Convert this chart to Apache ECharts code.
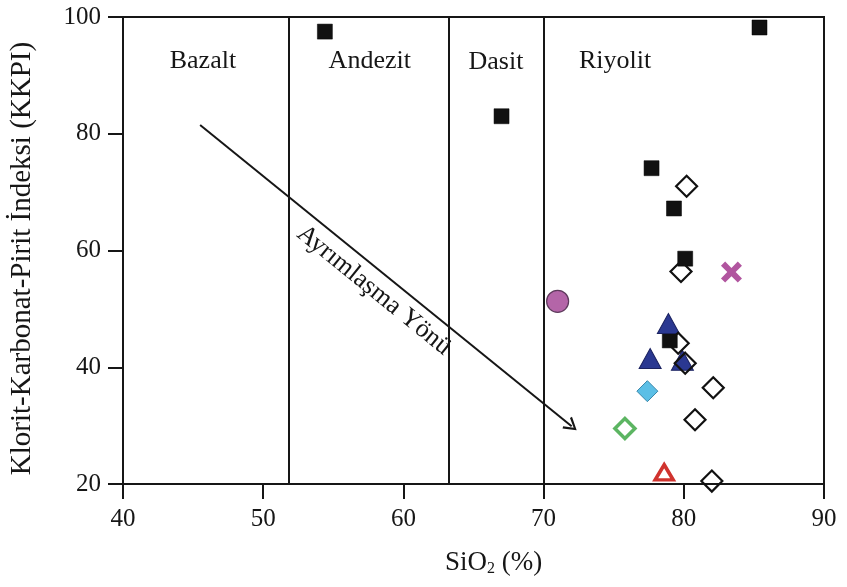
<!DOCTYPE html>
<html>
<head>
<meta charset="utf-8">
<script src="https://cdn.jsdelivr.net/npm/echarts@6/dist/echarts.min.js"></script>
<style>
  html, body { margin: 0; padding: 0; background: #fff; }
  #chart { width: 847px; height: 587px; }
</style>
</head>
<body>
<div id="chart"></div>
<script>
// SiO2 (%) vs chlorite-carbonate-pyrite index samples
const blackSquares = [[54.4, 97.5], [67.0, 83.0], [77.7, 74.1], [79.3, 67.2], [80.1, 58.6], [79.0, 44.6], [85.4, 98.2]];
const openDiamonds = [[80.2, 71.0], [79.8, 56.4], [79.6, 44.1], [80.1, 40.7], [82.1, 36.5], [80.8, 31.0], [82.0, 20.5]];
const blueTriangles = [[78.9, 47.5], [77.6, 41.5], [79.9, 41.2]];
const lightBlueDiamonds = [[77.4, 35.9]];
const greenDiamonds = [[75.8, 29.5]];
const redTriangles = [[78.6, 22.0]];
const pinkCircles = [[71.0, 51.3]];
const magentaCrosses = [[83.4, 56.3]];

// Rock-type field boundaries (SiO2 %) and field names
const boundaries = [51.8, 63.2, 70.0];
const fieldNames = ['Bazalt', 'Andezit', 'Dasit', 'Riyolit'];
const fieldX = [45.7, 57.6, 66.6, 75.1];
const fieldY = [92.5, 92.5, 92.2, 92.5];

// Differentiation direction arrow
const arrowStart = [45.5, 81.5];
const arrowEnd = [72.0, 29.9];
const arrowText = 'Ayrımlaşma Yönü';

const xTicks = [40, 90, 10];
const yTicks = [20, 100, 20];

const FONT = '"Liberation Serif", "DejaVu Serif", serif';
const INK = '#161616';

const chart = echarts.init(document.getElementById('chart'), null, { renderer: 'canvas' });

const crossPath = 'path://M0,2 L2,0 L5,3 L8,0 L10,2 L7,5 L10,8 L8,10 L5,7 L2,10 L0,8 L3,5 Z';
const chevronPath = 'path://M5,0 L10,10 L8.6,10.7 L5,3.2 L1.4,10.7 L0,10 Z';

chart.setOption({
  animation: false,
  backgroundColor: '#fff',
  grid: {
    left: 122, right: 23, top: 17, bottom: 103,
    show: true, borderColor: INK, borderWidth: 2, backgroundColor: 'transparent'
  },
  xAxis: {
    type: 'value', min: xTicks[0], max: xTicks[1], interval: xTicks[2],
    name: 'SiO{sub|2} (%)', nameLocation: 'middle', nameGap: 65,
    nameTextStyle: {
      fontFamily: FONT, fontSize: 27, color: INK, padding: [0, 0, 0, 40],
      rich: { sub: { fontFamily: FONT, fontSize: 16, color: INK, padding: [12, 0, 0, 0] } }
    },
    axisLine: { show: true, onZero: false, lineStyle: { color: INK, width: 2 } },
    axisTick: { show: true, inside: false, length: 15, lineStyle: { color: INK, width: 2 } },
    axisLabel: { fontFamily: FONT, fontSize: 25, color: INK, margin: 23 },
    splitLine: { show: false }
  },
  yAxis: {
    type: 'value', min: yTicks[0], max: yTicks[1], interval: yTicks[2],
    name: 'Klorit-Karbonat-Pirit İndeksi (KKPI)', nameLocation: 'middle', nameGap: 86,
    nameTextStyle: { fontFamily: FONT, fontSize: 29, color: INK, padding: [0, 16, 0, 0] },
    axisLine: { show: true, onZero: false, lineStyle: { color: INK, width: 2 } },
    axisTick: { show: true, inside: false, length: 15, lineStyle: { color: INK, width: 2 } },
    axisLabel: { fontFamily: FONT, fontSize: 25, color: INK, margin: 22 },
    splitLine: { show: false }
  },
  series: [
    {
      // field boundaries, direction arrow and field names
      type: 'scatter', name: 'alanlar', silent: true, z: 1,
      symbolSize: 0,
      itemStyle: { opacity: 1 },
      data: fieldNames.map((n, i) => ({ name: n, value: [fieldX[i], fieldY[i]] })),
      label: {
        show: true, position: 'inside', formatter: '{b}',
        fontFamily: FONT, fontSize: 26, color: INK, opacity: 1
      },
      markLine: {
        silent: true, animation: false,
        symbol: ['none', 'none'],
        lineStyle: { color: INK, width: 2, type: 'solid', opacity: 1 },
        label: { show: false },
        emphasis: { disabled: true },
        data: boundaries.map(b => [{ coord: [b, yTicks[0]] }, { coord: [b, yTicks[1]] }]).concat([
          [
            { coord: arrowStart, symbol: 'none' },
            {
              coord: arrowEnd, symbol: chevronPath, symbolSize: [15, 13],
              label: {
                show: true, position: 'insideMiddleBottom', formatter: arrowText,
                fontFamily: FONT, fontSize: 26, color: INK, distance: 6
              },
              lineStyle: { color: INK, width: 2 }
            }
          ]
        ])
      }
    },
    {
      type: 'scatter', name: 'kare', z: 3, symbol: 'rect', symbolSize: 15,
      itemStyle: { color: '#111111', borderColor: '#000', borderWidth: 0.5, opacity: 1 },
      data: blackSquares
    },
    {
      type: 'scatter', name: 'mavi üçgen', z: 4, symbol: 'triangle', symbolSize: [22, 20],
      itemStyle: { color: '#2a3891', borderColor: '#1b2260', borderWidth: 1, opacity: 1 },
      data: blueTriangles
    },
    {
      type: 'scatter', name: 'açık elmas', z: 5, symbol: 'diamond', symbolSize: 21,
      itemStyle: { color: 'rgba(255,255,255,0)', borderColor: '#111111', borderWidth: 2.2, opacity: 1 },
      data: openDiamonds
    },
    {
      type: 'scatter', name: 'açık mavi', z: 4, symbol: 'diamond', symbolSize: 21,
      itemStyle: { color: '#5bbfe6', borderColor: '#3a87aa', borderWidth: 1, opacity: 1 },
      data: lightBlueDiamonds
    },
    {
      type: 'scatter', name: 'yeşil', z: 4, symbol: 'diamond', symbolSize: 20,
      itemStyle: { color: '#ffffff', borderColor: '#5cb562', borderWidth: 3.5, opacity: 1 },
      data: greenDiamonds
    },
    {
      type: 'scatter', name: 'kırmızı', z: 4, symbol: 'triangle', symbolSize: [18, 15],
      itemStyle: { color: '#ffffff', borderColor: '#d0332e', borderWidth: 3.5, opacity: 1 },
      data: redTriangles
    },
    {
      type: 'scatter', name: 'pembe', z: 4, symbol: 'circle', symbolSize: 22,
      itemStyle: { color: '#b465a8', borderColor: '#5e3a5c', borderWidth: 1.2, opacity: 1 },
      data: pinkCircles
    },
    {
      type: 'scatter', name: 'çarpı', z: 4, symbol: crossPath, symbolSize: 21,
      itemStyle: { color: '#b1559f', opacity: 1 },
      data: magentaCrosses
    }
  ]
});
</script>
</body>
</html>
